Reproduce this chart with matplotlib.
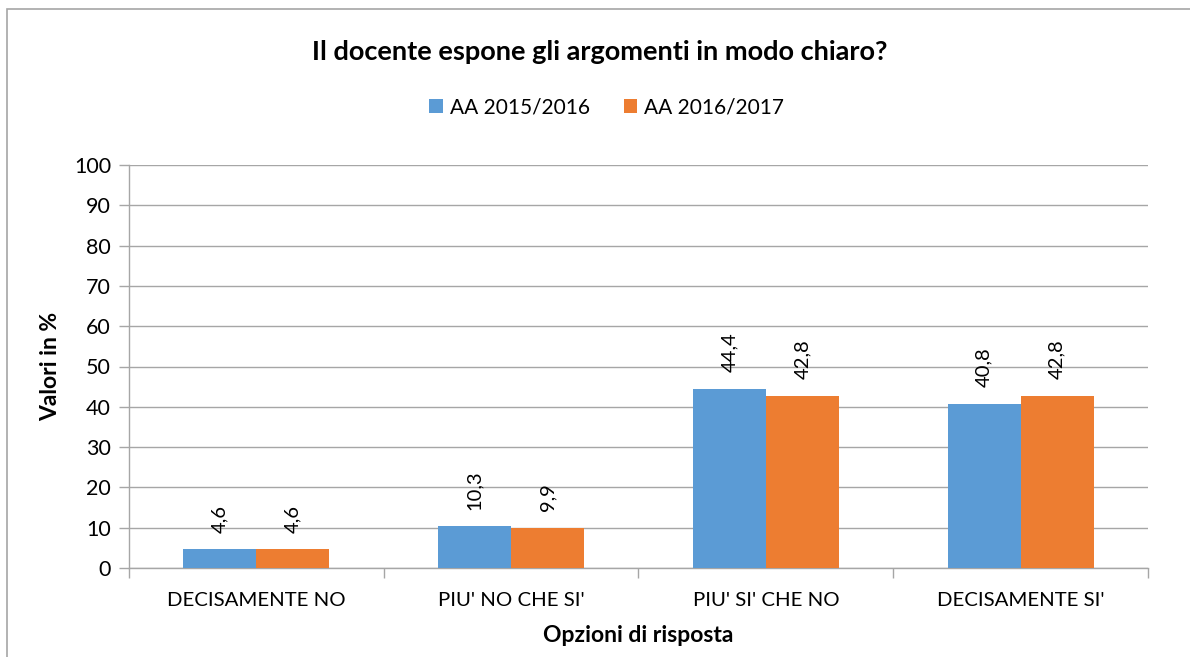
import matplotlib.pyplot as plt
import numpy as np
from matplotlib.patches import Rectangle

plt.rcParams['font.family'] = ['Lato', 'DejaVu Sans']

categories = ['DECISAMENTE NO', "PIU' NO CHE SI'", "PIU' SI' CHE NO", "DECISAMENTE SI'"]
series_names = ['AA 2015/2016', 'AA 2016/2017']
val_2015 = [4.6, 10.3, 44.4, 40.8]
val_2016 = [4.6, 9.9, 42.8, 42.8]
colors = ['#5B9BD5', '#ED7D31']

fig = plt.figure(figsize=(11.9, 6.57), dpi=100)
ax = fig.add_axes([129/1190, 1-568/657, (1148-129)/1190, (568-165)/657])

# chart border
fig.patches.append(Rectangle((7/1190, -0.1), 1.2, 1-9/657+0.1, transform=fig.transFigure,
                             fill=False, edgecolor='#A6A6A6', linewidth=1.2))

x = np.arange(len(categories))
w = 0.2865
b1 = ax.bar(x - w/2, val_2015, w, color=colors[0], label=series_names[0], zorder=3)
b2 = ax.bar(x + w/2, val_2016, w, color=colors[1], label=series_names[1], zorder=3)

for bars, vals in ((b1, val_2015), (b2, val_2016)):
    for r, v in zip(bars, vals):
        ax.annotate(('%.1f' % v).replace('.', ','), (r.get_x() + r.get_width()/2, v),
                    xytext=(0, 12), textcoords='offset points', rotation=90,
                    ha='center', va='bottom', fontsize=14.5, color='#000000')

ax.set_xlim(-0.5, 3.5)
ax.set_ylim(0, 100)
ax.set_yticks(range(0, 101, 10))
ax.set_xticks(x)
ax.set_xticklabels(categories)
ax.set_xticks(np.arange(-0.5, 4, 1), minor=True)
ax.tick_params(axis='x', which='major', length=0, pad=17, labelsize=14.7)
ax.tick_params(axis='x', which='minor', length=7, color='#A6A6A6', width=1)
ax.tick_params(axis='y', length=7, color='#A6A6A6', width=1, labelsize=15.5, pad=6)
ax.yaxis.grid(True, color='#A6A6A6', linewidth=1, zorder=0)
for s in ('top', 'right'):
    ax.spines[s].set_visible(False)
for s in ('left', 'bottom'):
    ax.spines[s].set_color('#A6A6A6')
    ax.spines[s].set_linewidth(1)

ax.set_ylabel('Valori in %', fontsize=16.5, fontweight='bold', labelpad=9)
ax.set_xlabel('Opzioni di risposta', fontsize=16.5, fontweight='bold', labelpad=12)

fig.text(0.504, 1-52/657, 'Il docente espone gli argomenti in modo chiaro?', ha='center', va='center',
         fontsize=19.5, fontweight='bold')
fig.legend(handles=[b1, b2], loc='center', bbox_to_anchor=(0.51, 1-107/657), ncol=2, frameon=False,
           fontsize=15, handlelength=0.65, handleheight=0.65, handletextpad=0.35, columnspacing=1.6)

fig.savefig('out.png', dpi=100)
